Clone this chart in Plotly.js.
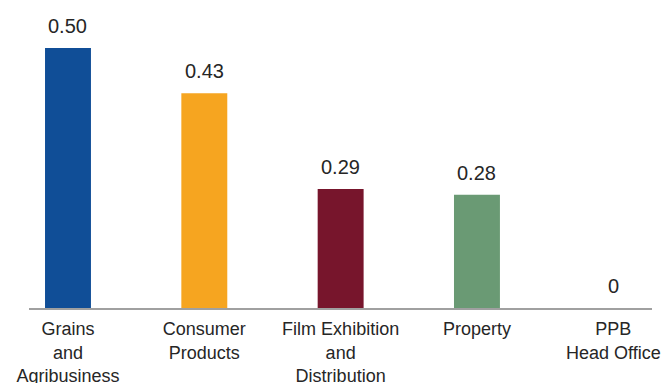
<!DOCTYPE html>
<html>
<head>
<meta charset="utf-8">
<script src="https://cdn.plot.ly/plotly-3.0.1.min.js"></script>
<style>
html,body{margin:0;padding:0;background:#fff;}
#chart{width:666px;height:383px;}
</style>
</head>
<body>
<div id="chart"></div>
<script>
// Categories (tick labels, with line breaks as in the picture)
var categories = ["Grains<br>and<br>Agribusiness", "Consumer<br>Products", "Film Exhibition<br>and<br>Distribution", "Property", "PPB<br>Head Office"];
// Bar heights
var values = [0.50, 0.413, 0.229, 0.218, 0];
// Printed value labels
var valueLabels = ["0.50", "0.43", "0.29", "0.28", "0"];
var barColors = ["#104e97", "#f6a520", "#77152c", "#6a9a74", "#6a9a74"];

var idx = categories.map(function(_, i){ return i; });

var trace = {
  type: "bar",
  x: idx,
  y: values,
  marker: {color: barColors, line: {width: 0}},
  width: 0.337,
  hoverinfo: "none"
};

var annotations = idx.map(function(i){
  return {
    x: i, y: values[i], xref: "x", yref: "y",
    text: valueLabels[i], showarrow: false,
    yanchor: "bottom", yshift: 9,
    font: {family: "Liberation Sans, Arial, sans-serif", size: 20, color: "#262626"}
  };
});

var layout = {
  width: 666, height: 383,
  margin: {l: 29, r: 14, t: 0, b: 75},
  paper_bgcolor: "#fff", plot_bgcolor: "#fff",
  showlegend: false,
  xaxis: {
    range: [-0.286, 4.284],
    tickmode: "array", tickvals: idx, ticktext: categories,
    showline: true, linecolor: "#a0a0a0", linewidth: 1.5,
    showgrid: false, zeroline: false, ticks: "",
    ticklabelstandoff: 4,
    tickfont: {family: "Liberation Sans, Arial, sans-serif", size: 18, color: "#262626"},
    fixedrange: true
  },
  yaxis: {
    range: [0, 0.5923], visible: false, showgrid: false, zeroline: false, fixedrange: true
  },
  annotations: annotations,
  font: {family: "Liberation Sans, Arial, sans-serif"}
};

Plotly.newPlot("chart", [trace], layout, {displayModeBar: false, staticPlot: true});
</script>
</body>
</html>
